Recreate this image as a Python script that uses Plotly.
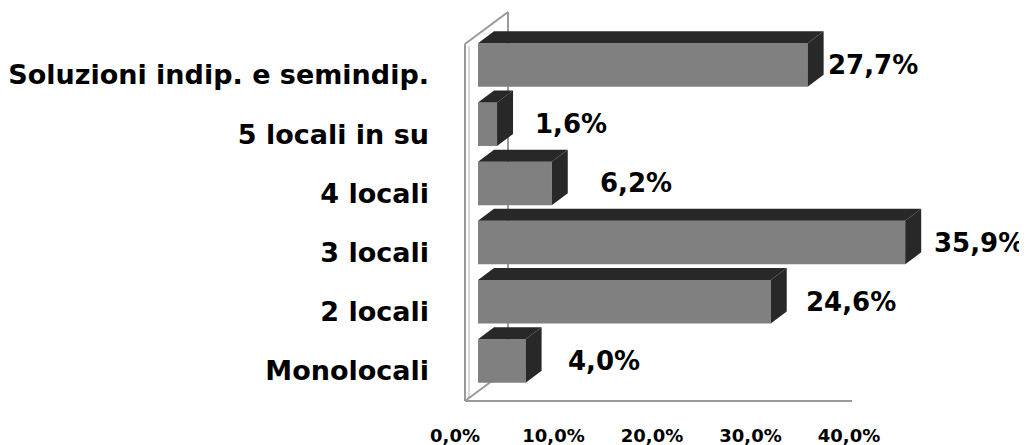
import plotly.graph_objects as go

# ---- data ----
categories = ["Monolocali", "2 locali", "3 locali", "4 locali", "5 locali in su",
              "Soluzioni indip. e semindip."]
values = [4.0, 24.6, 35.9, 6.2, 1.6, 27.7]
tick_values = [0, 10, 20, 30, 40]
tick_labels = ["0,0%", "10,0%", "20,0%", "30,0%", "40,0%"]

# ---- style / layout constants (page pixels; page body has an 8px margin) ----
OFF = 8
W, H = 1027 - OFF, 445 - OFF
L, R, T, B = 450, 1025, 10, 401          # plot area in page pixels
BAR_X0_PX, BAR_PX_PER_UNIT = 478, 11.9   # bar axis scale
TICK_X0_PX, TICK_PX_PER_UNIT = 455, 9.85 # label axis scale (Excel 3D floor)
Y0_PX, Y_PX_PER_UNIT = 361, 59.2
BAR_W = 0.735
DEPTH_DX_PX, DEPTH_DY_PX = 16, 12
label_dx = [40, 33, 27, 46, 36, 18]
FRONT = "#808080"
DARK = "#282828"
FRAME = "#9a9a9a"
FONT = "DejaVu Sans"

xr = [(L - BAR_X0_PX) / BAR_PX_PER_UNIT, (R - BAR_X0_PX) / BAR_PX_PER_UNIT]
x2r = [(L - TICK_X0_PX) / TICK_PX_PER_UNIT, (R - TICK_X0_PX) / TICK_PX_PER_UNIT]
yr = [-(B - Y0_PX) / Y_PX_PER_UNIT, (Y0_PX - T) / Y_PX_PER_UNIT]
ddx = DEPTH_DX_PX / BAR_PX_PER_UNIT
ddy = DEPTH_DY_PX / Y_PX_PER_UNIT

pos = list(range(len(categories)))

fig = go.Figure()

# 3D top and side faces, computed from values
for p, v in zip(pos, values):
    top = p + BAR_W / 2
    bot = p - BAR_W / 2
    fig.add_trace(go.Scatter(
        x=[0, v, v + ddx, ddx, 0], y=[top, top, top + ddy, top + ddy, top],
        fill="toself", fillcolor=DARK, mode="lines", line=dict(width=0, color=DARK),
        hoverinfo="skip", showlegend=False))
    fig.add_trace(go.Scatter(
        x=[v, v + ddx, v + ddx, v, v], y=[bot, bot + ddy, top + ddy, top, bot],
        fill="toself", fillcolor=DARK, mode="lines", line=dict(width=0, color=DARK),
        hoverinfo="skip", showlegend=False))

# front faces
fig.add_trace(go.Bar(
    x=values, y=pos, orientation="h", width=BAR_W,
    marker=dict(color=FRONT, line=dict(width=0)),
    hoverinfo="skip", showlegend=False))

# value labels
for p, v, dx in zip(pos, values, label_dx):
    fig.add_annotation(
        x=v, y=p, xref="x", yref="y", text=f"{v:.1f}%".replace(".", ","),
        showarrow=False, xanchor="left", yanchor="middle", xshift=dx,
        font=dict(family=FONT, size=26, color="black", weight="bold"))

# invisible trace for label axis
fig.add_trace(go.Scatter(x=[tick_values[0]], y=[pos[0]], xaxis="x2", mode="markers",
                         marker=dict(opacity=0), hoverinfo="skip", showlegend=False))

def px(x):
    return (x - L) / (R - L)

def py(y):
    return (B - y) / (B - T)

frame = [
    ((465, 44), (465, 401), FRAME, "above"),
    ((469, 46), (469, 399), "#d8d8d8", "below"),
    ((465, 44), (508, 12), FRAME, "above"),
    ((508, 12), (508, 369), FRAME, "below"),
    ((465, 401), (508, 369), FRAME, "below"),
    ((465, 401), (852, 401), FRAME, "above"),
]
for (x0, y0), (x1, y1), c, layer in frame:
    fig.add_shape(type="line", xref="paper", yref="paper",
                  x0=px(x0), y0=py(y0), x1=px(x1), y1=py(y1),
                  line=dict(color=c, width=2), layer=layer)

fig.update_layout(
    width=W, height=H,
    margin=dict(l=L - OFF, r=1027 - R, t=T - OFF, b=445 - B, pad=0, autoexpand=False),
    paper_bgcolor="white", plot_bgcolor="white",
    xaxis=dict(range=xr, showgrid=False, zeroline=False, showline=False,
               showticklabels=False, ticks="", automargin=False),
    xaxis2=dict(range=x2r, overlaying="x", anchor="y", side="bottom",
                showgrid=False, zeroline=False, showline=False, automargin=False,
                tickvals=tick_values, ticktext=tick_labels, ticks="",
                ticklabelstandoff=22,
                tickfont=dict(family=FONT, size=18, color="black", weight="bold")),
    yaxis=dict(range=yr, showgrid=False, zeroline=False, showline=False,
               tickvals=pos, ticktext=categories, ticks="", automargin=False,
               ticklabelstandoff=20, ticklabelshift=10,
               tickfont=dict(family=FONT, size=27, color="black", weight="bold")),
)

fig.write_html("out.html")
